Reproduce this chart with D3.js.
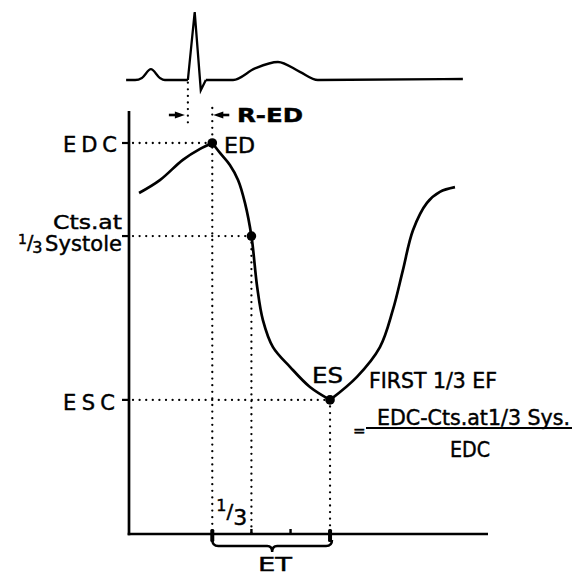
<!DOCTYPE html>
<html>
<head>
<meta charset="utf-8">
<script src="https://cdn.jsdelivr.net/npm/d3@7"></script>
<style>
html,body{margin:0;padding:0;background:#fff;}
text{font-family:"DejaVu Sans","Liberation Sans",Arial,sans-serif;fill:#000;stroke:#000;stroke-width:0.45px;}
</style>
</head>
<body>
<svg id="chart" width="576" height="576"></svg>
<script>
// ---------- data ----------
// ECG trace (time in ms, amplitude in mV)
const ecgTime = [-8, 17, 36, 61, 86, 100, 164, 183, 200, 214, 290, 351, 415, 476, 526, 930];
const ecgVolt = [0, 0, 0.03, 0.16, 0.03, 0, 0, 1.0, -0.15, 0, 0, 0.17, 0.265, 0.12, 0, 0.015];
// Time-activity curve (time in ms, relative counts)
const curveTime   = [28, 86, 150, 198, 232, 254, 281, 304, 323, 341, 357, 373, 401, 449, 504, 560, 635, 699, 735, 763, 791, 830, 866, 908];
const curveCounts = [87.2, 90.5, 95.7, 98.5, 100, 97.4, 94.4, 90.5, 84.7, 76.2, 63.2, 54.7, 47.8, 42.7, 37.6, 34.3, 40.2, 47.8, 57.3, 67.5, 77.7, 84.7, 87.5, 88.7];
// key events
const rWaveTime = 164;
const eventNames  = ["ED", "Cts at 1/3 Systole", "ES"];
const eventTime   = [232, 341, 560];
const eventCounts = [100, 76.2, 34.3];
const etTicks = [232, 341, 450, 560];

// ---------- scales ----------
const svg = d3.select("#chart");
const x = d3.scaleLinear().domain([0, 1000]).range([129, 488]);
const y = d3.scaleLinear().domain([0, 100]).range([534, 143]);
const ey = d3.scaleLinear().domain([0, 1]).range([80, 12]);

function dline(x1, y1, x2, y2) {
  svg.append("line").attr("x1", x1).attr("y1", y1).attr("x2", x2).attr("y2", y2)
    .attr("stroke", "#000").attr("stroke-width", 2.3).attr("stroke-dasharray", "0,6.6")
    .attr("stroke-linecap", "round").attr("fill", "none");
}
function label(txt, xx, yy, opts = {}) {
  const t = svg.append("text").attr("x", xx).attr("y", yy).attr("font-size", opts.size || 21).text(txt);
  if (opts.anchor) t.attr("text-anchor", opts.anchor);
  if (opts.len) t.attr("textLength", opts.len).attr("lengthAdjust", opts.adj || "spacing");
  if (opts.weight) t.attr("font-weight", opts.weight);
  return t;
}

// ---------- ECG ----------
const ecgPts = ecgTime.map((t, i) => [t, ecgVolt[i]]);
const ecgLineSmooth = d3.line().x(d => x(d[0])).y(d => ey(d[1])).curve(d3.curveMonotoneX);
const ecgLineLin = d3.line().x(d => x(d[0])).y(d => ey(d[1]));
const ecgStyle = p => p.attr("fill", "none").attr("stroke", "#000").attr("stroke-width", 2.3).attr("stroke-linejoin", "miter");
ecgStyle(svg.append("path").attr("d", ecgLineSmooth(ecgPts.slice(0, 7))));
ecgStyle(svg.append("path").attr("d", ecgLineLin(ecgPts.slice(6, 10))));
ecgStyle(svg.append("path").attr("d", ecgLineSmooth(ecgPts.slice(9))));

// ---------- axes ----------
svg.append("line").attr("x1", x(0)).attr("x2", x(0)).attr("y1", 111).attr("y2", y(0) + 1.3)
  .attr("stroke", "#000").attr("stroke-width", 2.7);
svg.append("line").attr("x1", x(0) - 1.3).attr("x2", x(1000)).attr("y1", y(0)).attr("y2", y(0))
  .attr("stroke", "#000").attr("stroke-width", 2.7);
eventCounts.forEach(c => {
  svg.append("line").attr("x1", x(0) - 7).attr("x2", x(0)).attr("y1", y(c)).attr("y2", y(c))
    .attr("stroke", "#000").attr("stroke-width", 2.2);
});

// ---------- dotted guides ----------
dline(x(rWaveTime), ey(-0.04), x(rWaveTime), 128);
dline(x(eventTime[0]), 108, x(eventTime[0]), y(0));
dline(x(eventTime[1]), y(eventCounts[1]), x(eventTime[1]), y(0));
dline(x(eventTime[2]), y(eventCounts[2]), x(eventTime[2]), y(0));
eventTime.forEach((t, i) => dline(x(0) + 4, y(eventCounts[i]), x(t), y(eventCounts[i])));

// ---------- curve ----------
const cPts = curveTime.map((t, i) => [t, curveCounts[i]]);
const cLine = d3.line().x(d => x(d[0])).y(d => y(d[1])).curve(d3.curveCatmullRom.alpha(0.5));
const iED = curveTime.indexOf(eventTime[0]);
const iES = curveTime.indexOf(eventTime[2]);
[[0, iED + 1], [iED, iES + 1], [iES, curveTime.length]].forEach(([a, b]) => {
  svg.append("path").attr("d", cLine(cPts.slice(a, b))).attr("fill", "none")
    .attr("stroke", "#000").attr("stroke-width", 2.7).attr("stroke-linejoin", "round");
});
eventTime.forEach((t, i) => {
  svg.append("circle").attr("cx", x(t)).attr("cy", y(eventCounts[i])).attr("r", 4.8).attr("fill", "#000");
});

// ---------- R-ED arrows ----------
const ay = 115;
function arrow(xTip, dir) {
  const xTail = xTip - dir * 16;
  svg.append("line").attr("x1", xTail).attr("x2", xTip - dir * 6).attr("y1", ay).attr("y2", ay)
    .attr("stroke", "#000").attr("stroke-width", 2.6);
  svg.append("path").attr("d", `M${xTip},${ay} L${xTip - dir * 10},${ay - 3.5} L${xTip - dir * 10},${ay + 3.5} Z`).attr("fill", "#000");
}
arrow(x(rWaveTime) - 3, 1);
arrow(x(eventTime[0]) + 1, -1);
label("R-ED", 237, 122, {size: 20, weight: "bold", len: 66, adj: "spacingAndGlyphs"});

// ---------- bottom ticks & brace ----------
[etTicks[0], etTicks[3]].forEach(t => {
  svg.append("rect").attr("x", x(t) - 2).attr("y", y(0) - 5).attr("width", 4).attr("height", 13).attr("rx", 1.5).attr("fill", "#000");
});
[etTicks[1], etTicks[2]].forEach(t => {
  svg.append("line").attr("x1", x(t)).attr("x2", x(t)).attr("y1", y(0) - 5).attr("y2", y(0))
    .attr("stroke", "#000").attr("stroke-width", 2.4);
});
const bx1 = x(etTicks[0]), bx2 = x(etTicks[3]) + 2, bm = (bx1 + bx2) / 2;
const by = 546;
svg.append("path")
  .attr("d", `M${bx1},${by - 6} Q${bx1},${by} ${bx1 + 6},${by} L${bm - 5},${by} Q${bm},${by} ${bm},${by + 6} Q${bm},${by} ${bm + 5},${by} L${bx2 - 6},${by} Q${bx2},${by} ${bx2},${by - 6}`)
  .attr("fill", "none").attr("stroke", "#000").attr("stroke-width", 2.4);
label("ET", 258, 571, {size: 20, len: 34, adj: "spacingAndGlyphs"});

// bottom 1/3 label
const t13 = svg.append("text").attr("x", x(etTicks[0]) + 4).attr("y", 511);
t13.append("tspan").attr("font-size", 16).text("1");
t13.append("tspan").attr("font-size", 20).attr("dy", 7).text("/");
t13.append("tspan").attr("font-size", 22).attr("dy", 7).text("3");

// ---------- left labels ----------
label("EDC", 63, 152, {len: 54});
label("ESC", 63, 410, {len: 52});
label("Cts.at", 53, 229, {size: 20, len: 69, adj: "spacingAndGlyphs"});
label("Systole", 45, 251, {len: 77});
const sys = svg.append("text").attr("x", 18).attr("y", 244);
sys.append("tspan").attr("font-size", 14).text("1");
sys.append("tspan").attr("font-size", 19).attr("dy", 5).text("/");
sys.append("tspan").attr("font-size", 16).attr("dx", -1).attr("dy", 4).text("3");

// ---------- point labels ----------
label("ED", 224, 153, {len: 31, adj: "spacingAndGlyphs"});
label("ES", 312, 383, {len: 31, adj: "spacingAndGlyphs"});

// ---------- formula ----------
label("FIRST 1/3 EF", 369, 388, {size: 21, len: 128, adj: "spacingAndGlyphs"});
label("=", 353, 436, {size: 15});
svg.append("line").attr("x1", 366).attr("x2", 572).attr("y1", 428).attr("y2", 428).attr("stroke", "#000").attr("stroke-width", 2.2);
label("EDC-Cts.at1/3 Sys.", 377, 425, {size: 21, len: 193, adj: "spacingAndGlyphs"});
label("EDC", 450, 457, {size: 21, len: 40, adj: "spacingAndGlyphs"});
</script>
</body>
</html>
